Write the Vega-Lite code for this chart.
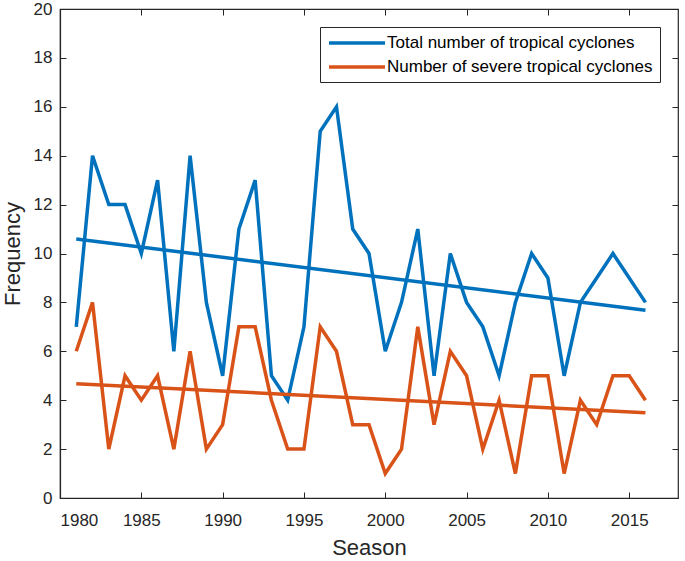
{
  "$schema": "https://vega.github.io/schema/vega-lite/v6.json",
  "autosize": "none",
  "width": 618,
  "height": 489,
  "padding": {"left": 60, "top": 9, "right": 7, "bottom": 63},
  "background": "white",
  "config": {
    "view": {"stroke": "#262626", "strokeWidth": 1.2},
    "axis": {
      "grid": false,
      "domainColor": "#262626",
      "tickColor": "#262626",
      "labelColor": "#262626",
      "titleColor": "#262626",
      "labelFont": "Liberation Sans",
      "titleFont": "Liberation Sans",
      "labelFontSize": 17,
      "titleFontSize": 22,
      "titleFontWeight": "normal",
      "tickSize": -6,
      "tickWidth": 1,
      "domainWidth": 1.2
    },
    "legend": {
      "labelFont": "Liberation Sans",
      "labelFontSize": 17,
      "labelColor": "#000000"
    }
  },
  "data": {
    "values": [
      {"year": 1981, "total": 7, "severe": 6},
      {"year": 1982, "total": 14, "severe": 8},
      {"year": 1983, "total": 12, "severe": 2},
      {"year": 1984, "total": 12, "severe": 5},
      {"year": 1985, "total": 10, "severe": 4},
      {"year": 1986, "total": 13, "severe": 5},
      {"year": 1987, "total": 6, "severe": 2},
      {"year": 1988, "total": 14, "severe": 6},
      {"year": 1989, "total": 8, "severe": 2},
      {"year": 1990, "total": 5, "severe": 3},
      {"year": 1991, "total": 11, "severe": 7},
      {"year": 1992, "total": 13, "severe": 7},
      {"year": 1993, "total": 5, "severe": 4},
      {"year": 1994, "total": 4, "severe": 2},
      {"year": 1995, "total": 7, "severe": 2},
      {"year": 1996, "total": 15, "severe": 7},
      {"year": 1997, "total": 16, "severe": 6},
      {"year": 1998, "total": 11, "severe": 3},
      {"year": 1999, "total": 10, "severe": 3},
      {"year": 2000, "total": 6, "severe": 1},
      {"year": 2001, "total": 8, "severe": 2},
      {"year": 2002, "total": 11, "severe": 7},
      {"year": 2003, "total": 5, "severe": 3},
      {"year": 2004, "total": 10, "severe": 6},
      {"year": 2005, "total": 8, "severe": 5},
      {"year": 2006, "total": 7, "severe": 2},
      {"year": 2007, "total": 5, "severe": 4},
      {"year": 2008, "total": 8, "severe": 1},
      {"year": 2009, "total": 10, "severe": 5},
      {"year": 2010, "total": 9, "severe": 5},
      {"year": 2011, "total": 5, "severe": 1},
      {"year": 2012, "total": 8, "severe": 4},
      {"year": 2013, "total": 9, "severe": 3},
      {"year": 2014, "total": 10, "severe": 5},
      {"year": 2015, "total": 9, "severe": 5},
      {"year": 2016, "total": 8, "severe": 4}
    ]
  },
  "transform": [{"fold": ["total", "severe"], "as": ["series", "value"]}],
  "resolve": {"axis": {"x": "independent", "y": "independent"}},
  "layer": [
    {
      "mark": {"type": "line", "strokeWidth": 3.5, "strokeJoin": "miter"},
      "encoding": {
        "x": {
          "field": "year", "type": "quantitative",
          "scale": {"domain": [1980, 2018], "nice": false, "zero": false},
          "axis": {"values": [1980, 1985, 1990, 1995, 2000, 2005, 2010, 2015], "format": "d", "title": "Season", "labelPadding": 20, "titlePadding": 9}
        },
        "y": {
          "field": "value", "type": "quantitative",
          "scale": {"domain": [0, 20], "nice": false},
          "axis": {"values": [0, 2, 4, 6, 8, 10, 12, 14, 16, 18, 20], "title": "Frequency", "labelPadding": 14, "titlePadding": 9}
        },
        "color": {
          "field": "series", "type": "nominal",
          "scale": {"domain": ["total", "severe"], "range": ["#0072BD", "#D95319"]},
          "legend": {
            "title": null,
            "orient": "none",
            "legendX": 260,
            "legendY": 18,
            "symbolType": "M-4,0H4",
            "symbolSize": 196,
            "symbolStrokeWidth": 3.5,
            "symbolOffset": 21,
            "labelOffset": 21,
            "labelLimit": 400,
            "padding": 7,
            "rowPadding": 7,
            "strokeColor": "#262626",
            "fillColor": "white",
            "labelExpr": "datum.value == 'total' ? 'Total number of tropical cyclones\u00a0\u00a0\u00a0' : 'Number of severe tropical cyclones\u00a0\u00a0\u00a0'"
          }
        }
      }
    },
    {
      "transform": [{"regression": "value", "on": "year", "groupby": ["series"]}],
      "mark": {"type": "line", "strokeWidth": 3.5},
      "encoding": {
        "x": {
          "field": "year", "type": "quantitative",
          "axis": {"values": [1980, 1985, 1990, 1995, 2000, 2005, 2010, 2015], "labelOpacity": 0, "title": null, "domain": false, "labelFontSize": 1}
        },
        "y": {
          "field": "value", "type": "quantitative",
          "axis": {"values": [0, 2, 4, 6, 8, 10, 12, 14, 16, 18, 20], "labelOpacity": 0, "title": null, "domain": false, "labelFontSize": 1}
        },
        "color": {"field": "series", "type": "nominal"}
      }
    }
  ]
}
